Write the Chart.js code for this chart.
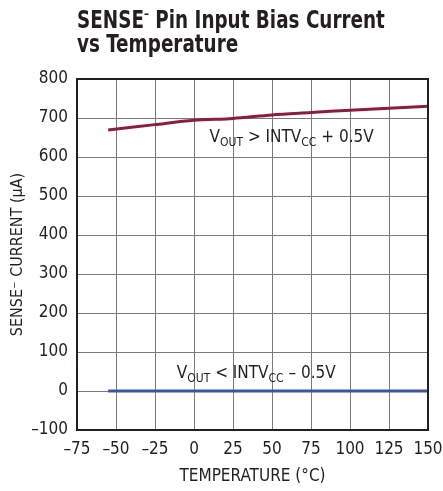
<!DOCTYPE html>
<html>
<head>
<meta charset="utf-8">
<script src="https://cdn.jsdelivr.net/npm/chart.js@4"></script>
<style>
  html, body { margin: 0; padding: 0; background: #fff; }
  #wrap { position: relative; width: 443px; height: 491px; }
  #title {
    position: absolute; left: 77px; top: 8px;
    font-family: "DejaVu Sans Condensed", "DejaVu Sans", sans-serif;
    font-weight: bold; font-size: 24px; line-height: 24px; color: #231f20;
    white-space: nowrap; transform-origin: 0 0;
  }
  canvas { position: absolute; left: 0; top: 0; }
</style>
</head>
<body>
<div id="wrap">
  <canvas id="c" width="443" height="491"></canvas>
  <div id="title">SENSE<span style="font-size:13px;vertical-align:10px;line-height:0">–</span> Pin Input Bias Current<br>vs Temperature</div>
</div>
<script>
var FONT = '"DejaVu Sans Condensed", "DejaVu Sans", sans-serif';

var temps = [-55, -25, 0, 25, 50, 75, 100, 125, 150];
var highCurrent = [669, 683, 694, 699, 708, 714, 720, 725, 730];
var lowCurrent = [0, 0, 0, 0, 0, 0, 0, 0, 0];
var xTicks = [-75, -50, -25, 0, 25, 50, 75, 100, 125, 150];
var yTicks = [-100, 0, 100, 200, 300, 400, 500, 600, 700, 800];

// squeeze the title to the condensed width of the original
var t = document.getElementById('title');
t.style.transform = 'scaleX(' + (308 / t.offsetWidth) + ')';

function pts(xs, ys) {
    return xs.map(function (x, i) { return { x: x, y: ys[i] }; });
}

// text with subscripts: [text, isSub]
function drawRich(ctx, parts, x, y) {
    parts.forEach(function (p) {
        ctx.font = (p[1] ? '12px ' : '17px ') + FONT;
        ctx.fillText(p[0], x, y + (p[1] ? 4 : 0));
        x += ctx.measureText(p[0]).width;
    });
}

var labelsPlugin = {
    id: 'labels',
    afterDatasetsDraw: function (chart) {
        var ctx = chart.ctx, xs = chart.scales.x, ys = chart.scales.y, a = chart.chartArea;
        ctx.save();
        ctx.strokeStyle = '#231f20';
        ctx.lineWidth = 2;
        ctx.strokeRect(a.left, a.top, a.right - a.left, a.bottom - a.top);
        ctx.fillStyle = '#231f20';
        ctx.textBaseline = 'alphabetic';
        ctx.textAlign = 'left';
        drawRich(ctx, [['V', 0], ['OUT', 1], [' > INTV', 0], ['CC', 1], [' + 0.5V', 0]],
            xs.getPixelForValue(10), ys.getPixelForValue(638));
        drawRich(ctx, [['V', 0], ['OUT', 1], [' < INTV', 0], ['CC', 1], [' \u2013 0.5V', 0]],
            xs.getPixelForValue(-11), ys.getPixelForValue(33));
        ctx.restore();
    }
};

new Chart(document.getElementById('c'), {
    type: 'line',
    data: {
        datasets: [
            { data: pts(temps, highCurrent), borderColor: '#8c1d40', borderWidth: 3, pointRadius: 0, tension: 0.3 },
            { data: pts(temps, lowCurrent), borderColor: '#3c55a0', borderWidth: 3, pointRadius: 0 }
        ]
    },
    options: {
        responsive: false,
        animation: false,
        layout: { padding: { top: 79, right: 15, left: 0, bottom: 0 } },
        plugins: { legend: { display: false }, tooltip: { enabled: false } },
        scales: {
            x: {
                type: 'linear', min: -75, max: 150,
                afterBuildTicks: function (s) { s.ticks = xTicks.map(function (v) { return { value: v }; }); },
                afterFit: function (s) { s.height = 61; s.paddingRight = 0; },
                grid: { color: '#7a7a7a', lineWidth: 1, drawTicks: false },
                border: { display: false },
                ticks: {
                    color: '#231f20', font: { family: FONT, size: 17 }, padding: 9, maxRotation: 0,
                    callback: function (v) { return String(v).replace('-', '\u2013'); }
                },
                title: { display: true, text: 'TEMPERATURE (°C)', color: '#231f20', font: { family: FONT, size: 17 }, padding: { top: 3 } }
            },
            y: {
                min: -100, max: 800,
                afterBuildTicks: function (s) { s.ticks = yTicks.map(function (v) { return { value: v }; }); },
                afterFit: function (s) { s.width = 77; },
                grid: { color: '#7a7a7a', lineWidth: 1, drawTicks: false },
                border: { display: false },
                ticks: {
                    color: '#231f20', font: { family: FONT, size: 17 }, padding: 9,
                    callback: function (v) { return String(v).replace('-', '\u2013'); }
                },
                title: { display: true, text: 'SENSE\u207B CURRENT (\u03BCA)', color: '#231f20', font: { family: FONT, size: 16 }, padding: { top: 8, bottom: 0 } }
            }
        }
    },
    plugins: [labelsPlugin]
});
</script>
</body>
</html>
